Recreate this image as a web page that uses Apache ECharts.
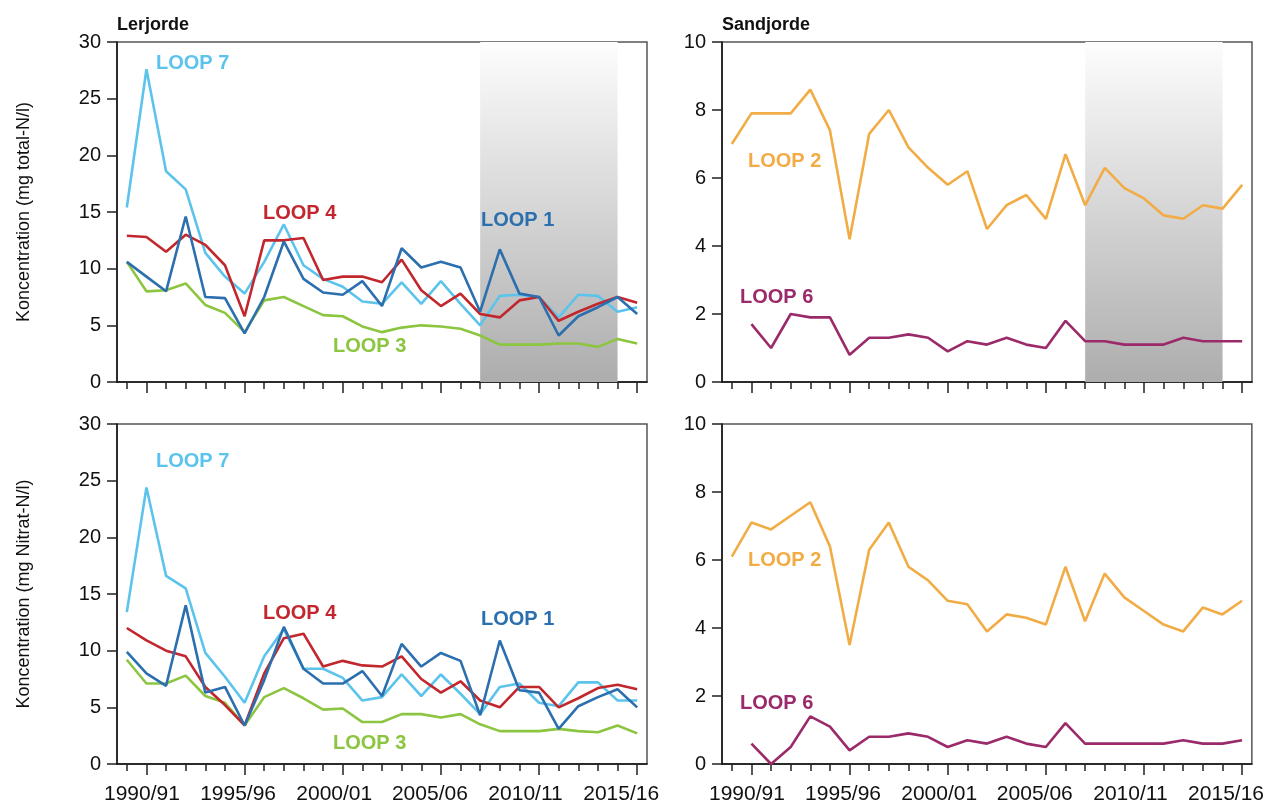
<!DOCTYPE html>
<html><head><meta charset="utf-8">
<script src="https://cdn.jsdelivr.net/npm/echarts@6/dist/echarts.min.js"></script>
<style>html,body{margin:0;padding:0;background:#fff}#c{width:1267px;height:807px}</style>
</head><body><div id="c"></div>
<script>
var categories = ['1989/90','1990/91','1991/92','1992/93','1993/94','1994/95','1995/96','1996/97','1997/98','1998/99','1999/00','2000/01','2001/02','2002/03','2003/04','2004/05','2005/06','2006/07','2007/08','2008/09','2009/10','2010/11','2011/12','2012/13','2013/14','2014/15','2015/16'];
var shadeStart = '2007/08', shadeEnd = '2014/15';
var panelTitles = ['Lerjorde', 'Sandjorde'];
var yNames = ['Koncentration (mg total-N/l)', 'Koncentration (mg Nitrat-N/l)'];

// Lerjorde, total-N
var totLoop1 = [10.6,9.3,8.0,14.6,7.5,7.4,4.3,7.5,12.4,9.1,7.9,7.7,8.9,6.7,11.8,10.1,10.6,10.1,6.2,11.7,7.8,7.5,4.1,5.8,6.6,7.5,6.0];
var totLoop3 = [10.6,8.0,8.1,8.7,6.8,6.1,4.4,7.2,7.5,6.7,5.9,5.8,4.9,4.4,4.8,5.0,4.9,4.7,4.1,3.3,3.3,3.3,3.4,3.4,3.1,3.8,3.4];
var totLoop4 = [12.9,12.8,11.5,13.0,12.1,10.3,5.8,12.5,12.5,12.7,9.0,9.3,9.3,8.8,10.8,8.1,6.7,7.8,6.0,5.7,7.2,7.5,5.4,6.2,6.9,7.5,7.0];
var totLoop7 = [15.4,27.6,18.6,17.0,11.4,9.3,7.8,10.6,13.9,10.3,9.1,8.4,7.1,6.9,8.8,6.9,8.9,6.9,5.0,7.6,7.7,7.5,5.7,7.7,7.6,6.2,6.6];
// Sandjorde, total-N
var totLoop2 = [7.0,7.9,7.9,7.9,8.6,7.4,4.2,7.3,8.0,6.9,6.3,5.8,6.2,4.5,5.2,5.5,4.8,6.7,5.2,6.3,5.7,5.4,4.9,4.8,5.2,5.1,5.8];
var totLoop6 = [null,1.7,1.0,2.0,1.9,1.9,0.8,1.3,1.3,1.4,1.3,0.9,1.2,1.1,1.3,1.1,1.0,1.8,1.2,1.2,1.1,1.1,1.1,1.3,1.2,1.2,1.2];
// Lerjorde, nitrat-N
var nitLoop1 = [9.9,8.0,6.9,14.0,6.3,6.8,3.4,7.4,12.1,8.4,7.1,7.1,8.2,6.0,10.6,8.6,9.8,9.1,4.3,10.9,6.5,6.3,3.1,5.1,5.9,6.6,5.0];
var nitLoop3 = [9.2,7.1,7.1,7.8,6.0,5.4,3.4,5.9,6.7,5.8,4.8,4.9,3.7,3.7,4.4,4.4,4.1,4.4,3.5,2.9,2.9,2.9,3.1,2.9,2.8,3.4,2.7];
var nitLoop4 = [12.0,10.9,10.0,9.5,6.8,5.2,3.4,8.0,11.1,11.5,8.6,9.1,8.7,8.6,9.5,7.5,6.3,7.3,5.6,5.0,6.8,6.8,5.0,5.8,6.7,7.0,6.6];
var nitLoop7 = [13.4,24.4,16.6,15.5,9.8,7.7,5.4,9.5,11.9,8.4,8.4,7.6,5.6,5.9,7.9,6.0,7.9,6.2,4.4,6.8,7.1,5.4,5.1,7.2,7.2,5.6,5.6];
// Sandjorde, nitrat-N
var nitLoop2 = [6.1,7.1,6.9,7.3,7.7,6.4,3.5,6.3,7.1,5.8,5.4,4.8,4.7,3.9,4.4,4.3,4.1,5.8,4.2,5.6,4.9,4.5,4.1,3.9,4.6,4.4,4.8];
var nitLoop6 = [null,0.6,0.0,0.5,1.4,1.1,0.4,0.8,0.8,0.9,0.8,0.5,0.7,0.6,0.8,0.6,0.5,1.2,0.6,0.6,0.6,0.6,0.6,0.7,0.6,0.6,0.7];

var C = {l1:'#2b6fae', l3:'#8cc540', l4:'#c1272d', l7:'#5cc4ec', l2:'#f2ac45', l6:'#9b2a6a'};
var baseFont = "'Liberation Sans',Arial,sans-serif";

var grids = [
  {left:117, top:42, width:530, height:340},
  {left:722, top:42, width:530, height:340},
  {left:117, top:424, width:530, height:340},
  {left:722, top:424, width:530, height:340}
];

var xAxes = [], yAxes = [];
grids.forEach(function(g, gi){
  var bottomRow = gi >= 2;
  xAxes.push({type:'category', gridIndex:gi, data:categories, boundaryGap:true,
    axisLine:{show:true, onZero:false, lineStyle:{color:'#111', width:1.5}},
    axisTick:{show:true, inside:false, alignWithLabel:true, interval:0, length:7, lineStyle:{color:'#222', width:1.5}},
    axisLabel:{show:false}, splitLine:{show:false}});
  xAxes.push({type:'category', gridIndex:gi, data:categories, boundaryGap:true, position:'bottom', offset:0,
    axisLine:{show:false, onZero:false},
    axisTick:{show:true, inside:false, alignWithLabel:true, interval:function(i){return i%5===1;}, length:11, lineStyle:{color:'#222', width:1.5}},
    axisLabel:{show:bottomRow, interval:function(i){return i%5===1;}, margin:20, color:'#111', fontSize:21, fontFamily:baseFont,
      formatter:function(v, i){ var k=Math.round((i-1)/5); return '{a'+k+'|'+v+'}'; },
      rich:{a0:{padding:[0,9,0,0]},a1:{padding:[0,13,0,0]},a2:{padding:[0,17,0,0]},a3:{padding:[0,22,0,0]},a4:{padding:[0,27,0,0]},a5:{padding:[0,32,0,0]}}},
    splitLine:{show:false}});
  var left = gi%2===0;
  yAxes.push({type:'value', gridIndex:gi, min:0, max:left?30:10, interval:left?5:2,
    name: left ? yNames[gi>>1] : '', nameLocation:'middle', nameGap:84,
    nameTextStyle:{fontSize:18, color:'#111', fontFamily:baseFont},
    axisLine:{show:true, lineStyle:{color:'#111', width:1.5}},
    axisTick:{show:true, length:10, lineStyle:{color:'#222', width:1.5}},
    axisLabel:{margin:16, fontSize:20, color:'#111', fontFamily:baseFont},
    splitLine:{show:false}});
});

function line(name, data, color, gi){
  return {name:name, type:'line', data:data, xAxisIndex:gi*2, yAxisIndex:gi, symbol:'none',
    lineStyle:{color:color, width:2.6}, itemStyle:{color:color}, z:3, silent:true, animation:false};
}
function shade(){
  return {silent:true, itemStyle:{color:{type:'linear',x:0,y:0,x2:0,y2:1,colorStops:[{offset:0,color:'#fdfdfd'},{offset:1,color:'#adadad'}]}},
    data:[[{xAxis:shadeStart},{xAxis:shadeEnd}]]};
}
var s = [];
var a = line('LOOP 3', totLoop3, C.l3, 0); a.markArea = shade(); s.push(a);
s.push(line('LOOP 7', totLoop7, C.l7, 0));
s.push(line('LOOP 4', totLoop4, C.l4, 0));
s.push(line('LOOP 1', totLoop1, C.l1, 0));
var b = line('LOOP 2', totLoop2, C.l2, 1); b.markArea = shade(); s.push(b);
s.push(line('LOOP 6', totLoop6, C.l6, 1));
s.push(line('LOOP 3', nitLoop3, C.l3, 2));
s.push(line('LOOP 7', nitLoop7, C.l7, 2));
s.push(line('LOOP 4', nitLoop4, C.l4, 2));
s.push(line('LOOP 1', nitLoop1, C.l1, 2));
s.push(line('LOOP 2', nitLoop2, C.l2, 3));
s.push(line('LOOP 6', nitLoop6, C.l6, 3));

function txt(t, x, y, color, size){
  return {type:'text', left:x, top:y, z:10, style:{text:t, fill:color, font:'bold '+(size||20)+'px '+baseFont}};
}
var graphics = [
  txt(panelTitles[0], 117, 16, '#111', 18), txt(panelTitles[1], 722, 16, '#111', 18),
  txt('LOOP 7', 156, 53, C.l7), txt('LOOP 4', 263, 203, C.l4), txt('LOOP 1', 481, 210, C.l1), txt('LOOP 3', 333, 336, C.l3),
  txt('LOOP 7', 156, 451, C.l7), txt('LOOP 4', 263, 603, C.l4), txt('LOOP 1', 481, 609, C.l1), txt('LOOP 3', 333, 733, C.l3),
  txt('LOOP 2', 748, 151, C.l2), txt('LOOP 6', 740, 287, C.l6),
  txt('LOOP 2', 748, 550, C.l2), txt('LOOP 6', 740, 693, C.l6)
];

var chart = echarts.init(document.getElementById('c'), null, {renderer:'canvas'});
chart.setOption({
  animation:false,
  grid: grids.map(function(g){ return Object.assign({show:true, borderColor:'#555', borderWidth:1.5, backgroundColor:'transparent'}, g); }),
  xAxis:xAxes, yAxis:yAxes, series:s, graphic:graphics
});
</script></body></html>
